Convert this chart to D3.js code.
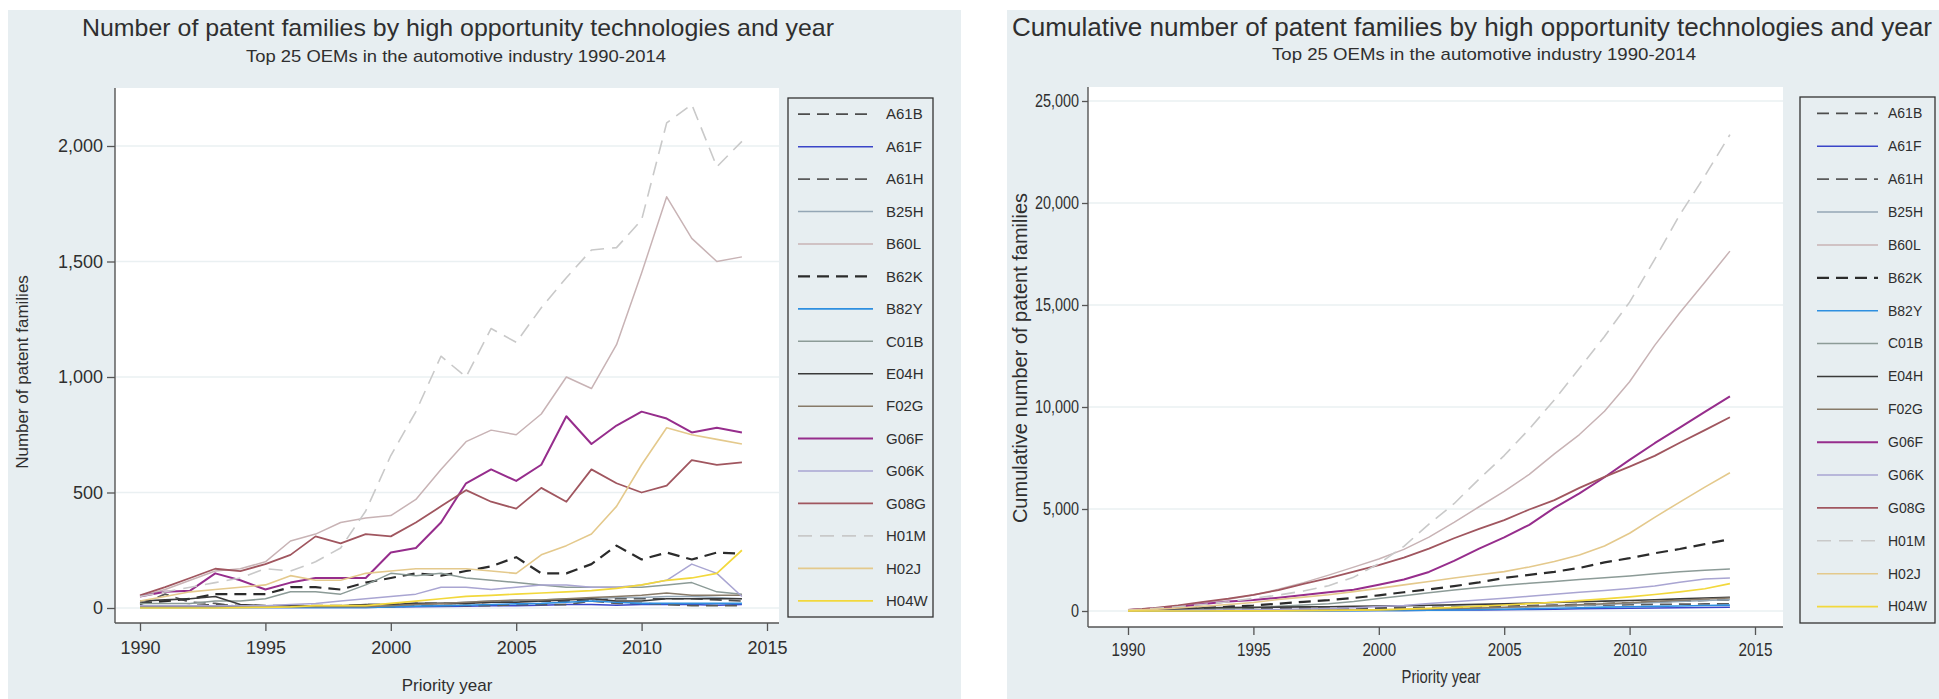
<!DOCTYPE html>
<html>
<head>
<meta charset="utf-8">
<script src="https://cdn.jsdelivr.net/npm/d3@7"></script>
<style>
  body { margin: 0; background: #ffffff; }
  svg { display: block; }
</style>
</head>
<body>
<svg id="chart" width="1939" height="699"></svg>
<script>
// Priority years and technology classes (IPC subclasses)
const years = [1990, 1991, 1992, 1993, 1994, 1995, 1996, 1997, 1998, 1999,
               2000, 2001, 2002, 2003, 2004, 2005, 2006, 2007, 2008, 2009,
               2010, 2011, 2012, 2013, 2014];
const codes = ["A61B", "A61F", "A61H", "B25H", "B60L", "B62K", "B82Y", "C01B",
               "E04H", "F02G", "G06F", "G06K", "G08G", "H01M", "H02J", "H04W"];

// Patent families per priority year, 1990-2014
const A61B = [5, 5, 10, 15, 10, 10, 10, 10, 10, 15, 15, 20, 20, 20, 25, 30, 30, 30, 35, 40, 40, 40, 40, 35, 30];
const A61F = [2, 2, 2, 2, 2, 2, 2, 2, 2, 2, 4, 5, 6, 8, 10, 10, 12, 15, 15, 12, 15, 15, 15, 12, 15];
const A61H = [15, 60, 25, 20, 5, 5, 5, 5, 5, 5, 5, 10, 10, 10, 10, 15, 15, 15, 30, 20, 20, 15, 10, 10, 10];
const B25H = [3, 3, 3, 3, 3, 3, 3, 3, 3, 3, 10, 15, 20, 25, 30, 30, 35, 40, 40, 45, 45, 50, 50, 45, 40];
const B60L = [50, 80, 120, 160, 170, 200, 290, 320, 370, 390, 400, 470, 600, 720, 770, 750, 840, 1000, 950, 1140, 1450, 1780, 1600, 1500, 1520];
const B62K = [20, 30, 40, 60, 60, 60, 90, 90, 80, 110, 130, 150, 140, 160, 180, 220, 150, 150, 190, 270, 210, 240, 210, 240, 235];
const B82Y = [2, 2, 2, 2, 2, 2, 2, 2, 2, 2, 5, 8, 10, 12, 15, 18, 20, 25, 30, 25, 20, 20, 20, 20, 20];
const C01B = [20, 20, 20, 30, 30, 40, 70, 70, 60, 100, 150, 140, 150, 130, 120, 110, 100, 90, 90, 90, 90, 100, 110, 70, 60];
const E04H = [30, 35, 40, 50, 15, 10, 10, 10, 10, 15, 15, 20, 20, 20, 25, 25, 30, 35, 40, 30, 30, 40, 40, 40, 40];
const F02G = [5, 5, 5, 5, 5, 5, 5, 5, 5, 5, 10, 15, 20, 25, 30, 35, 35, 40, 45, 50, 55, 65, 55, 55, 55];
const G06F = [50, 70, 75, 150, 120, 80, 110, 130, 130, 130, 240, 260, 370, 540, 600, 550, 620, 830, 710, 790, 850, 820, 760, 780, 760];
const G06K = [10, 10, 10, 10, 10, 10, 15, 20, 30, 40, 50, 60, 90, 90, 80, 90, 100, 100, 90, 90, 100, 120, 190, 150, 50];
const G08G = [55, 90, 130, 170, 160, 190, 230, 310, 280, 320, 310, 370, 440, 510, 460, 430, 520, 460, 600, 540, 500, 530, 640, 620, 630];
const H01M = [50, 70, 90, 110, 130, 170, 160, 200, 260, 420, 660, 850, 1090, 1000, 1210, 1150, 1300, 1430, 1550, 1560, 1680, 2100, 2180, 1910, 2020];
const H02J = [30, 50, 70, 80, 90, 100, 140, 120, 120, 150, 160, 170, 170, 170, 160, 150, 230, 270, 320, 440, 620, 780, 750, 730, 710];
const H04W = [0, 0, 0, 0, 2, 3, 5, 10, 10, 10, 20, 30, 40, 50, 55, 60, 65, 70, 75, 85, 100, 120, 130, 150, 250];

// Axis ticks
const xTicks = [1990, 1995, 2000, 2005, 2010, 2015];
const yTicksAnnual = [0, 500, 1000, 1500, 2000];
const yTicksCumulative = [0, 5000, 10000, 15000, 20000, 25000];

// Line styling per class
const lineColor = ["#4d4d4d", "#3a45c8", "#5a5a5a", "#94a6b5", "#c8b3b5", "#2b2b2b", "#2e8fe0", "#8c9b97",
                   "#3a3a3a", "#877a69", "#962d8c", "#a9a5d2", "#a0565f", "#c9c9c9", "#e4c98c", "#f2d83c"];
const lineDash  = ["12,7", null, "12,7", null, null, "12,7", null, null,
                   null, null, null, null, null, "14,8", null, null];
const lineWidth = [1.7, 1.5, 1.7, 1.5, 1.5, 2.2, 1.6, 1.5,
                   1.6, 1.5, 2.0, 1.5, 1.8, 1.6, 1.6, 1.7];

const annual = [A61B, A61F, A61H, B25H, B60L, B62K, B82Y, C01B, E04H, F02G, G06F, G06K, G08G, H01M, H02J, H04W];
const seriesAnnual = codes.map((c, i) => ({ code: c, values: annual[i] }));
const seriesCumulative = codes.map((c, i) => ({ code: c, values: Array.from(d3.cumsum(annual[i])) }));

const NARROW = "'Liberation Sans Narrow', 'Arial Narrow', 'Liberation Sans', sans-serif";
const REGULAR = "'Liberation Sans', Arial, sans-serif";
const BG = "#e7eef1";
const INK = "#2f2f2f";

const svg = d3.select("#chart");

// horizontally condense a text element in place (narrow type face look)
function condense(sel, k) {
  if (k === 1) return;
  sel.each(function () {
    const t = d3.select(this);
    const x = +t.attr("x") || 0;
    t.attr("x", x / k).attr("transform", `scale(${k},1)`);
  });
}

function drawPanel(cfg) {
  const g = svg.append("g");

  // graph region background
  g.append("rect")
    .attr("x", cfg.bg[0]).attr("y", cfg.bg[1])
    .attr("width", cfg.bg[2] - cfg.bg[0]).attr("height", cfg.bg[3] - cfg.bg[1])
    .attr("fill", BG);

  // titles
  g.append("text")
    .attr("x", cfg.titleX).attr("y", cfg.titleY)
    .attr("text-anchor", "middle")
    .attr("font-family", NARROW).attr("font-size", cfg.titleSize)
    .attr("fill", INK)
    .attr("textLength", cfg.titleLen).attr("lengthAdjust", "spacingAndGlyphs")
    .text(cfg.title);
  g.append("text")
    .attr("x", cfg.subX).attr("y", cfg.subY)
    .attr("text-anchor", "middle")
    .attr("font-family", NARROW).attr("font-size", cfg.subSize)
    .attr("fill", INK)
    .attr("textLength", cfg.subLen).attr("lengthAdjust", "spacingAndGlyphs")
    .text("Top 25 OEMs in the automotive industry 1990-2014");

  const p = cfg.plot;
  // plot region
  g.append("rect")
    .attr("x", p.left).attr("y", p.top)
    .attr("width", p.right - p.left).attr("height", p.bottom - p.top)
    .attr("fill", "#ffffff");

  const x = d3.scaleLinear().domain([1990, 2015]).range(cfg.xRange);
  const y = d3.scaleLinear().domain(cfg.yDomain).range(cfg.yRange);

  // gridlines
  g.append("g").selectAll("line").data(cfg.yTicks).join("line")
    .attr("x1", p.left + 1).attr("x2", p.right)
    .attr("y1", d => y(d)).attr("y2", d => y(d))
    .attr("stroke", "#eaf0f2").attr("stroke-width", 1.5);

  // y axis
  const yAxis = g.append("g")
    .attr("transform", `translate(${p.left},0)`)
    .call(d3.axisLeft(y).tickValues(cfg.yTicks).tickFormat(d3.format(","))
      .tickSize(cfg.yTickLen).tickPadding(cfg.yPad));
  yAxis.select(".domain").attr("d", `M0,${p.top}V${p.bottom}`);
  // x axis
  const xAxis = g.append("g")
    .attr("transform", `translate(0,${p.bottom})`)
    .call(d3.axisBottom(x).tickValues(xTicks).tickFormat(d3.format("d")).tickSize(8).tickPadding(cfg.xPad));
  xAxis.select(".domain").attr("d", `M${p.left},0H${p.right}`);

  [yAxis, xAxis].forEach(a => {
    a.select(".domain").attr("stroke", "#555").attr("stroke-width", 1.4);
    a.selectAll(".tick line").attr("stroke", "#555").attr("stroke-width", 1.3);
    a.selectAll(".tick text").attr("fill", INK).attr("font-family", REGULAR);
  });
  yAxis.selectAll(".tick text").attr("font-size", cfg.yTickSize).call(condense, cfg.tickSquash);
  xAxis.selectAll(".tick text").attr("font-size", cfg.xTickSize).call(condense, cfg.tickSquash);

  // axis titles
  g.append("text")
    .attr("transform", `translate(${cfg.yTitleX},${cfg.yTitleY}) rotate(-90)`)
    .attr("text-anchor", "middle")
    .attr("font-family", REGULAR).attr("font-size", cfg.yTitleSize)
    .attr("fill", INK)
    .text(cfg.yTitle);
  const xt = g.append("g").attr("transform", `translate(${cfg.xTitleX},${cfg.xTitleY})`);
  xt.append("text")
    .attr("text-anchor", "middle")
    .attr("font-family", REGULAR).attr("font-size", cfg.xTitleSize)
    .attr("fill", INK)
    .text("Priority year")
    .call(condense, cfg.tickSquash);

  // series lines
  const line = d3.line().x((d, i) => x(years[i])).y(d => y(d));
  g.append("g").selectAll("path").data(cfg.series).join("path")
    .attr("d", d => line(d.values))
    .attr("fill", "none")
    .attr("stroke", (d, i) => lineColor[i])
    .attr("stroke-width", (d, i) => lineWidth[i])
    .attr("stroke-dasharray", (d, i) => lineDash[i])
    .attr("stroke-linejoin", "round");

  // legend
  const L = cfg.legend;
  g.append("rect")
    .attr("x", L.x0).attr("y", L.y0)
    .attr("width", L.x1 - L.x0).attr("height", L.y1 - L.y0)
    .attr("fill", BG).attr("stroke", "#333").attr("stroke-width", 1.3);
  const step = (L.y1 - L.y0) / codes.length;
  const items = g.append("g").selectAll("g").data(codes).join("g")
    .attr("transform", (d, i) => `translate(0,${L.y0 + step * (i + 0.5)})`);
  items.append("line")
    .attr("x1", L.lx0).attr("x2", L.lx1)
    .attr("stroke", (d, i) => lineColor[i])
    .attr("stroke-width", (d, i) => lineWidth[i])
    .attr("stroke-dasharray", (d, i) => lineDash[i]);
  items.append("text")
    .attr("x", L.tx).attr("dy", "0.35em")
    .attr("font-family", REGULAR).attr("font-size", L.size)
    .attr("fill", INK)
    .text(d => d);
}

drawPanel({
  bg: [8, 10, 961, 699],
  title: "Number of patent families by high opportunity technologies and year",
  titleX: 458, titleY: 36, titleSize: 24, titleLen: 752,
  subX: 456, subY: 62, subSize: 17, subLen: 420,
  plot: { left: 115, right: 779, top: 88, bottom: 623 },
  xRange: [140, 767],
  yDomain: [0, 2000], yRange: [608, 146],
  yTicks: yTicksAnnual,
  tickSquash: 1, yTickSize: 18, xTickSize: 18, xPad: 10, yTickLen: 8, yPad: 4,
  yTitle: "Number of patent families", yTitleX: 28, yTitleY: 372, yTitleSize: 17,
  xTitleX: 447, xTitleY: 691, xTitleSize: 17,
  series: seriesAnnual,
  legend: { x0: 788, x1: 933, y0: 98, y1: 617, lx0: 798, lx1: 873, tx: 886, size: 15 }
});

drawPanel({
  bg: [1007, 10, 1939, 699],
  title: "Cumulative number of patent families by high opportunity technologies and year",
  titleX: 1472, titleY: 36, titleSize: 25, titleLen: 920,
  subX: 1484, subY: 60, subSize: 17, subLen: 424,
  plot: { left: 1088, right: 1783, top: 87, bottom: 627 },
  xRange: [1128, 1755],
  yDomain: [0, 25000], yRange: [611, 101],
  yTicks: yTicksCumulative,
  tickSquash: 0.8, yTickSize: 18, xTickSize: 19, xPad: 8, yTickLen: 6, yPad: 3,
  yTitle: "Cumulative number of patent families", yTitleX: 1027, yTitleY: 358, yTitleSize: 20,
  xTitleX: 1441, xTitleY: 683, xTitleSize: 18.5,
  series: seriesCumulative,
  legend: { x0: 1800, x1: 1935, y0: 97, y1: 623, lx0: 1817, lx1: 1878, tx: 1888, size: 14 }
});
</script>
</body>
</html>
